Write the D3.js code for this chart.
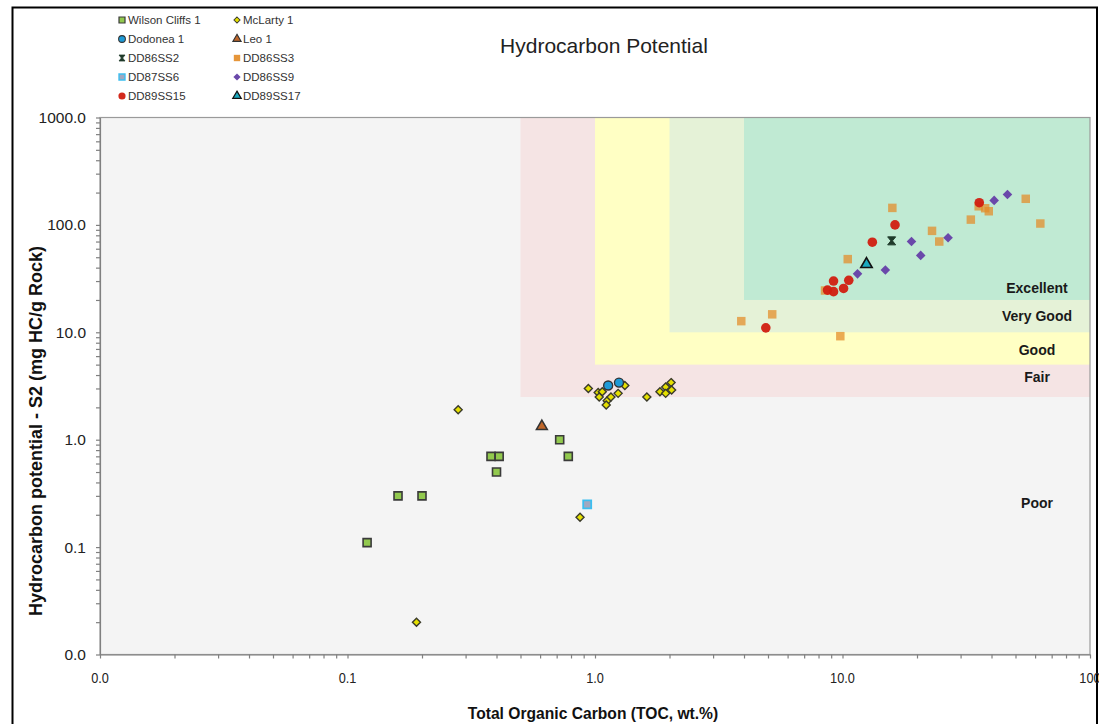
<!DOCTYPE html>
<html><head><meta charset="utf-8">
<script src="https://cdn.jsdelivr.net/npm/d3@7"></script>
<style>body{margin:0;background:#fff;}svg{display:block;font-family:Arial,"Liberation Sans",sans-serif;}</style>
</head><body>
<svg id="c" width="1099" height="724"></svg>
<script>
// ---- data ----
const wilsonCliffs = [[0.12,0.11],[0.16,0.30],[0.20,0.30],[0.38,0.70],[0.41,0.70],[0.40,0.50],[0.72,1.0],[0.78,0.70]];
const mcLarty = [[0.28,1.9],[0.19,0.02],[0.87,0.19],[0.94,3.0],[1.03,2.75],[1.07,2.8],[1.04,2.5],[1.12,2.3],[1.11,2.1],[1.16,2.5],[1.24,2.7],[1.32,3.2],[1.62,2.5],[1.83,2.8],[1.93,3.1],[1.93,2.7],[2.03,3.4],[2.04,2.9]];
const dodonea = [[1.13,3.2],[1.25,3.4]];
const leo = [[0.61,1.33]];
const dd86ss2 = [[15.8,71]];
const dd86ss3 = [[15.9,144],[10.5,48],[8.5,24.5],[3.9,12.7],[5.2,14.7],[9.8,9.2],[55,175],[63,103],[33,112],[23,88],[24.6,70],[35.5,149],[37.7,143],[39,134]];
const dd87ss6 = [[0.93,0.25]];
const dd86ss9 = [[11.5,35],[14.9,38],[19,70],[20.7,52],[26.7,76],[41,169],[46.4,192]];
const dd89ss15 = [[16.3,100],[13.2,69],[10.6,30.5],[9.2,30],[10.1,25.6],[8.7,24.7],[9.2,23.9],[4.9,11.0],[35.7,161]];
const dd89ss17 = [[12.5,43]];
const xTicks = [0.01,0.1,1,10,100];
const xTickLabels = ["0.0","0.1","1.0","10.0","100"];
const yTicks = [0.01,0.1,1,10,100,1000];
const yTickLabels = ["0.0","0.1","1.0","10.0","100.0","1000.0"];
const zones = [
  {name:"Fair", x0:0.5, y0:2.5, color:"#f5e4e4"},
  {name:"Good", x0:1, y0:5, color:"#ffffc4"},
  {name:"Very Good", x0:2, y0:10, color:"#e5f2d7"},
  {name:"Excellent", x0:4, y0:20, color:"#c0ead3"}
];
const zoneLabels = [
  {t:"Excellent", v:25.8},{t:"Very Good", v:14.2},{t:"Good", v:6.84},{t:"Fair", v:3.84},{t:"Poor", v:0.257}
];

const svg = d3.select("#c");
const L=100, R=1090, T=117.5, B=654.5;
const x = d3.scaleLog().domain([0.01,100]).range([L,R]);
const y = d3.scaleLog().domain([0.01,1000]).range([B,T]);

// outer frame
svg.append("path").attr("d",`M12.5,730 V7.5 H1097 V730`).attr("fill","none").attr("stroke","#000").attr("stroke-width",2);

// plot bg
svg.append("rect").attr("x",L).attr("y",T).attr("width",R-L).attr("height",B-T).attr("fill","#f4f4f4");
zones.forEach(z=>{
  svg.append("rect").attr("x",x(z.x0)).attr("y",T).attr("width",R-x(z.x0)).attr("height",y(z.y0)-T).attr("fill",z.color);
});
svg.append("rect").attr("x",L).attr("y",T).attr("width",R-L).attr("height",B-T).attr("fill","none").attr("stroke","#9a9a9a").attr("stroke-width",1.2);

// axes
const xAxis = d3.axisBottom(x).tickValues(d3.range(-2,2).flatMap(e=>d3.range(1,10).map(m=>m*Math.pow(10,e))).concat([100]))
  .tickFormat("").tickSize(4).tickSizeOuter(0);
const gx = svg.append("g").attr("transform",`translate(0,${B})`).call(xAxis);
gx.selectAll("path,line").attr("stroke","#808080").attr("stroke-width",1.2);
const yAxis = d3.axisLeft(y).tickValues(d3.range(-2,3).flatMap(e=>d3.range(1,10).map(m=>m*Math.pow(10,e))).concat([1000]))
  .tickFormat("").tickSize(4).tickSizeOuter(0);
const gy = svg.append("g").attr("transform",`translate(${L},0)`).call(yAxis);
gy.selectAll("path,line").attr("stroke","#808080").attr("stroke-width",1.2);

svg.append("g").selectAll("text").data(xTicks).join("text")
  .attr("x",d=>x(d)).attr("y",683).attr("text-anchor","middle")
  .attr("font-size",15).attr("fill","#222").attr("transform",d=>`translate(${x(d)},0) scale(0.85,1) translate(${-x(d)},0)`)
  .text((d,i)=>xTickLabels[i]);
svg.append("g").selectAll("text").data(yTicks).join("text")
  .attr("x",86).attr("y",d=>y(d)+5.5).attr("text-anchor","end")
  .attr("font-size",15.5).attr("fill","#222")
  .text((d,i)=>yTickLabels[i]);

// axis titles
svg.append("text").attr("x",593).attr("y",719).attr("text-anchor","middle").attr("font-size",17).attr("font-weight","bold").attr("fill","#111")
  .attr("transform","translate(593,0) scale(0.92,1) translate(-593,0)")
  .text("Total Organic Carbon (TOC, wt.%)");
svg.append("text").attr("transform","translate(42,431) rotate(-90)").attr("text-anchor","middle").attr("font-size",18).attr("font-weight","bold").attr("fill","#111")
  .text("Hydrocarbon potential - S2 (mg HC/g Rock)");

// title
svg.append("text").attr("x",604).attr("y",53).attr("text-anchor","middle").attr("font-size",21).attr("fill","#222").text("Hydrocarbon Potential");

// zone labels
svg.append("g").selectAll("text").data(zoneLabels).join("text")
  .attr("x",1037).attr("y",d=>y(d.v)+5).attr("text-anchor","middle").attr("font-size",14).attr("font-weight","bold").attr("fill","#1a1a1a")
  .text(d=>d.t);

// markers
const sym = (type,size)=>d3.symbol().type(type).size(size)();
const diamond = r=>`M0,${-r} L${r},0 L0,${r} L${-r},0 Z`;
const bowtie = "M-4,-4 L4,-4 L0.8,0 L4,4 L-4,4 L-0.8,0 Z";
const series = [
  {name:"Wilson Cliffs 1", data:wilsonCliffs, d:sym(d3.symbolSquare,64), fill:"#92c94e", stroke:"#3a3a3a", sw:1.6, op:1},
  {name:"McLarty 1", data:mcLarty, d:diamond(4), fill:"#e5e000", stroke:"#3a3a2a", sw:1.4, op:1},
  {name:"Dodonea 1", data:dodonea, d:sym(d3.symbolCircle,64), fill:"#1e9ad6", stroke:"#333", sw:1.4, op:1},
  {name:"Leo 1", data:leo, d:sym(d3.symbolTriangle,52), fill:"#c0672a", stroke:"#333", sw:1.5, op:1},
  {name:"DD86SS2", data:dd86ss2, d:bowtie, fill:"#1f3a2a", stroke:"#1f3a2a", sw:1, op:1},
  {name:"DD86SS3", data:dd86ss3, d:sym(d3.symbolSquare,72), fill:"#e38b25", stroke:"none", sw:0, op:0.72},
  {name:"DD87SS6", data:dd87ss6, d:sym(d3.symbolSquare,64), fill:"#a0a8c0", stroke:"#3cbef0", sw:1.8, op:1},
  {name:"DD86SS9", data:dd86ss9, d:diamond(4.8), fill:"#6a48aa", stroke:"none", sw:0, op:1},
  {name:"DD89SS15", data:dd89ss15, d:sym(d3.symbolCircle,72), fill:"#d11e10", stroke:"none", sw:0, op:0.95},
  {name:"DD89SS17", data:dd89ss17, d:sym(d3.symbolTriangle,56), fill:"#1aa9bf", stroke:"#111", sw:1.6, op:1}
];
const drawOrder = ["DD86SS3","DD86SS9","DD89SS15","DD86SS2","DD89SS17","Wilson Cliffs 1","McLarty 1","Dodonea 1","Leo 1","DD87SS6"];
drawOrder.forEach(n=>{
  const s = series.find(q=>q.name===n);
  svg.append("g").selectAll("path").data(s.data).join("path")
    .attr("d",s.d).attr("transform",p=>`translate(${x(p[0])},${y(p[1])})`)
    .attr("fill",s.fill).attr("stroke",s.stroke).attr("stroke-width",s.sw).attr("fill-opacity",s.op);
});

// legend
const lg = svg.append("g");
series.forEach((s,i)=>{
  const col=i%2, row=Math.floor(i/2);
  const mx = col===0?122:237, my = 20+row*19;
  lg.append("path").attr("d",s.d).attr("transform",`translate(${mx},${my}) scale(0.75)`)
    .attr("fill",s.fill).attr("stroke",s.stroke).attr("stroke-width",s.sw).attr("fill-opacity",Math.max(s.op,0.9));
  lg.append("text").attr("x",mx+6).attr("y",my+4).attr("font-size",11.5).attr("fill","#333").text(s.name);
});
</script>
</body></html>
